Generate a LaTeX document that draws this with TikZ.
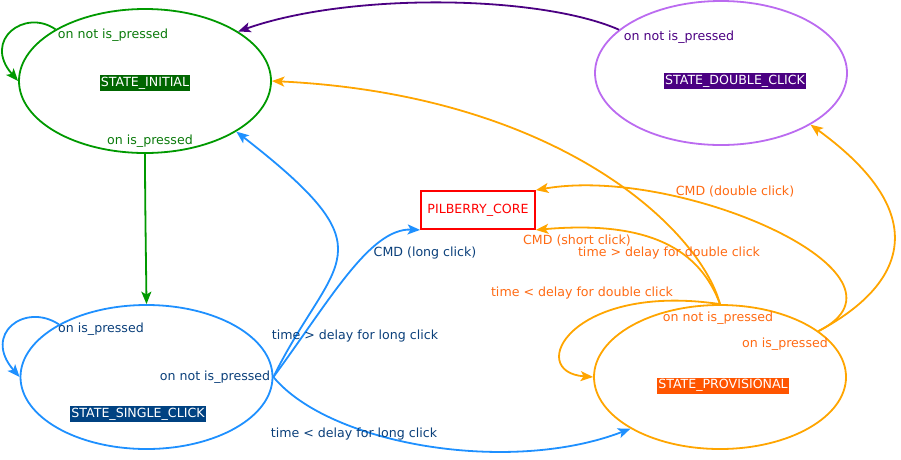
\documentclass[tikz,border=0pt]{standalone}
\usepackage{fontspec}
\setmainfont{DejaVu Sans}
\usetikzlibrary{shapes.geometric,arrows.meta}
\definecolor{gline}{HTML}{009900}
\definecolor{gtext}{HTML}{0A7A0A}
\definecolor{gfill}{HTML}{006600}
\definecolor{bline}{HTML}{1E90FF}
\definecolor{btext}{HTML}{0A3F7A}
\definecolor{bfill}{HTML}{004282}
\definecolor{pline}{HTML}{4B0082}
\definecolor{pborder}{HTML}{BB6BF0}
\definecolor{ptext}{HTML}{4B0082}
\definecolor{oline}{HTML}{FFA500}
\definecolor{otext}{HTML}{FF6A13}
\definecolor{ofill}{HTML}{FF5500}
\definecolor{rcore}{HTML}{FF0000}
\begin{document}
\begin{tikzpicture}[x=1pt,y=-1pt,
  font=\fontsize{12.6}{15}\selectfont,
  state/.style={ellipse, draw, line width=1.8pt, minimum width=252pt, minimum height=144pt, inner sep=0pt},
  slabel/.style={text=white, inner xsep=1pt, inner ysep=1pt, text height=10pt, text depth=4pt},
  elabel/.style={inner sep=0pt, text height=9.5pt, text depth=3pt},
  conn/.style={line width=1.8pt, -{Stealth[length=12.5pt,width=10pt,inset=3pt]}}]
\useasboundingbox (0,0) rectangle (901,459);

% states
\node[state, draw=gline] (init) at (145,81) {};
\node[state, draw=pborder] (double) at (721,73) {};
\node[state, draw=bline] (single) at (146.5,377) {};
\node[state, draw=oline] (prov) at (720,377) {};
\node[draw=rcore, line width=1.8pt, text=rcore, minimum width=114pt, minimum height=38pt, inner sep=0pt] (core) at (478,210) {PILBERRY\_CORE};

% state names
\node[slabel, fill=gfill] (initname) at (145,83) {STATE\_INITIAL};
\node[slabel, fill=pline] (doublename) at (735,81) {STATE\_DOUBLE\_CLICK};
\node[slabel, fill=bfill] (singlename) at (138,414) {STATE\_SINGLE\_CLICK};
\node[slabel, fill=ofill] (provname) at (723,385.5) {STATE\_PROVISIONAL};

% green edges
\draw[conn, gline] (init.150.5) .. controls (25,8) and (-18,40) .. (init.west);
\draw[conn, gline] (init.south) .. controls (145,200) and (146,260) .. (single.north);
\node[elabel, text=gtext] (l1) at (113,35) {on not is\_pressed};
\node[elabel, text=gtext] (l2) at (150,141) {on is\_pressed};

% blue edges
\draw[conn, bline] (single.149.5) .. controls (25,302) and (-18,334) .. (single.west);
\draw[conn, bline] (single.east) .. controls (333,256) and (395,255) .. (init.331);
\draw[conn, bline] (single.east) .. controls (330,300) and (370,228) .. (core.south west);
\draw[conn, bline] (single.east) .. controls (330,445) and (510,475) .. (prov.210);
\node[elabel, text=btext] (l3) at (101,329) {on is\_pressed};
\node[elabel, text=btext] (l4) at (215,377) {on not is\_pressed};
\node[elabel, text=btext] (l5) at (355,336) {time > delay for long click};
\node[elabel, text=btext] (l6) at (425,253) {CMD (long click)};
\node[elabel, text=btext] (l7) at (354,434) {time < delay for long click};

% purple edge
\draw[conn, pline] (double.157.8) .. controls (540,-5) and (350,-8) .. (init.28.8);
\node[elabel, text=ptext] (l8) at (679,37) {on not is\_pressed};

% orange edges
\draw[conn, oline] (prov.north) .. controls (700,230) and (560,95) .. (init.east);
\draw[conn, oline] (prov.north) .. controls (700,250) and (650,220) .. (core.south east);
\draw[conn, oline] (prov.north) .. controls (570,282) and (525,372) .. (prov.west);
\draw[conn, oline] (prov.25.1) .. controls (905,285) and (935,215) .. (double.330.3);
\draw[conn, oline] (prov.25.1) .. controls (930,275) and (680,165) .. (core.north east);
\node[elabel, text=otext] (l9) at (669,253) {time > delay for double click};
\node[elabel, text=otext] (l10) at (718,318) {on not is\_pressed};
\node[elabel, text=otext] (l11) at (577,241) {CMD (short click)};
\node[elabel, text=otext] (l12) at (582,293) {time < delay for double click};
\node[elabel, text=otext] (l13) at (785,344) {on is\_pressed};
\node[elabel, text=otext] (l14) at (735,192) {CMD (double click)};
\end{tikzpicture}
\end{document}
